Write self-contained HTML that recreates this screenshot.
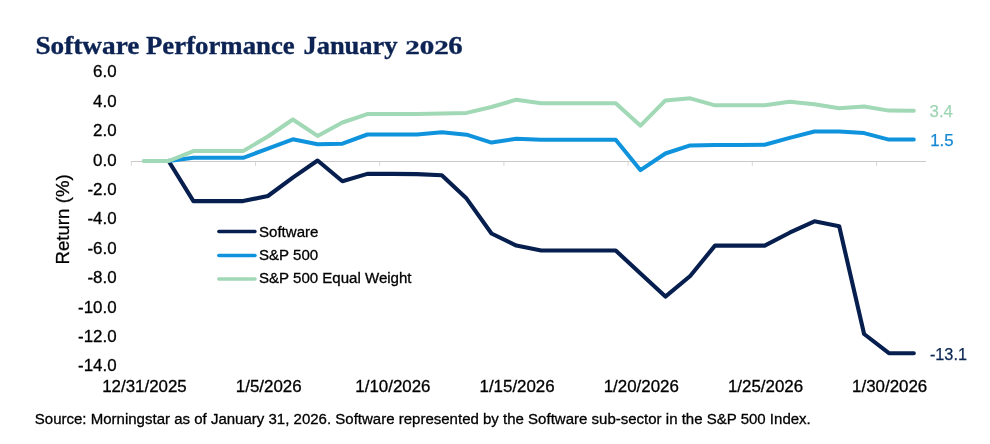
<!DOCTYPE html>
<html lang="en"><head><meta charset="utf-8"><title>Software Performance January 2026</title>
<style>
html,body{margin:0;padding:0;background:#fff;}
body{width:990px;height:444px;overflow:hidden;font-family:"Liberation Sans",Arial,sans-serif;}
svg{display:block;}
.ax text{font-size:16.9px;fill:#000;stroke:#000;stroke-width:0.3px;}
.ln{fill:none;stroke-width:4.0;stroke-linecap:round;stroke-linejoin:round;}
.lg text{font-size:15.05px;fill:#000;stroke:#000;stroke-width:0.3px;}
</style></head><body>
<svg width="990" height="444" viewBox="0 0 990 444" font-family="'Liberation Sans',Arial,sans-serif">
<rect width="990" height="444" fill="#fff"/>
<text id="title" x="35.6" y="53.7" font-family="'Liberation Serif','DejaVu Serif',serif" font-weight="700" font-size="24.7" fill="#0c2354" stroke="#0c2354" stroke-width="0.35"><tspan id="w1" x="35.4" textLength="104" lengthAdjust="spacingAndGlyphs">Software</tspan> <tspan id="w2" x="146" textLength="148.7" lengthAdjust="spacingAndGlyphs">Performance</tspan> <tspan id="w3" x="303.4" textLength="94.2" lengthAdjust="spacingAndGlyphs">January</tspan> <tspan id="w4" x="405.2" font-size="18" textLength="43.5" lengthAdjust="spacingAndGlyphs">202</tspan><tspan id="w5" x="448.3" textLength="14.4" lengthAdjust="spacingAndGlyphs">6</tspan></text>
<g class="ax"><text x="116.6" y="77.4" text-anchor="end">6.0</text><text x="116.6" y="106.8" text-anchor="end">4.0</text><text x="116.6" y="136.2" text-anchor="end">2.0</text><text x="116.6" y="165.6" text-anchor="end">0.0</text><text x="116.6" y="195.0" text-anchor="end">-2.0</text><text x="116.6" y="224.4" text-anchor="end">-4.0</text><text x="116.6" y="253.8" text-anchor="end">-6.0</text><text x="116.6" y="283.2" text-anchor="end">-8.0</text><text x="116.6" y="312.6" text-anchor="end">-10.0</text><text x="116.6" y="341.9" text-anchor="end">-12.0</text><text x="116.6" y="371.3" text-anchor="end">-14.0</text><text x="144.5" y="392.2" text-anchor="middle">12/31/2025</text><text x="268.7" y="392.2" text-anchor="middle">1/5/2026</text><text x="392.9" y="392.2" text-anchor="middle">1/10/2026</text><text x="517.1" y="392.2" text-anchor="middle">1/15/2026</text><text x="641.3" y="392.2" text-anchor="middle">1/20/2026</text><text x="765.5" y="392.2" text-anchor="middle">1/25/2026</text><text x="889.7" y="392.2" text-anchor="middle">1/30/2026</text></g>
<text transform="translate(68.5 264.6) rotate(-90)" font-size="18.7" fill="#000" stroke="#000" stroke-width="0.3">Return (%)</text>
<g stroke="#c9c9c9" stroke-width="1" fill="none"><path d="M131.0 161.5H926.2"/><g stroke="#d6d6d6"><path d="M131.3 161.5V165.8"/><path d="M255.5 161.5V165.8"/><path d="M379.7 161.5V165.8"/><path d="M503.9 161.5V165.8"/><path d="M628.1 161.5V165.8"/><path d="M752.3 161.5V165.8"/><path d="M876.5 161.5V165.8"/></g></g>
<polyline class="ln" stroke="#071f4f" style="stroke-width:4.1" points="168.6,161.0 193.4,201.1 218.2,201.1 243.1,201.1 267.9,196.0 292.8,177.6 317.6,160.5 342.4,181.2 367.3,173.9 392.1,173.9 417.0,174.1 441.8,175.2 466.6,198.6 491.5,233.5 516.3,245.6 541.2,250.5 566.0,250.5 590.8,250.5 615.7,250.5 640.5,273.6 665.4,296.6 690.2,276.0 715.0,245.6 739.9,245.6 764.7,245.6 789.6,232.7 814.4,221.3 839.2,226.2 864.1,334.0 888.9,353.2 913.8,353.2"/>
<polyline class="ln" stroke="#0f93dc" style="stroke-width:4.0" points="168.6,161.0 193.4,157.8 218.2,157.8 243.1,157.8 267.9,148.6 292.8,139.3 317.6,144.2 342.4,143.7 367.3,134.5 392.1,134.5 417.0,134.5 441.8,132.3 466.6,134.7 491.5,142.6 516.3,138.7 541.2,139.8 566.0,139.8 590.8,139.8 615.7,139.8 640.5,170.2 665.4,153.5 690.2,145.4 715.0,144.9 739.9,144.9 764.7,144.7 789.6,137.9 814.4,131.5 839.2,131.5 864.1,133.1 888.9,139.6 913.8,139.6"/>
<polyline class="ln" stroke="#a1d8b5" points="143.7,161.0 168.6,161.0 193.4,151.1 218.2,151.1 243.1,151.1 267.9,136.5 292.8,119.5 317.6,135.9 342.4,122.5 367.3,114.1 392.1,114.1 417.0,114.0 441.8,113.5 466.6,112.9 491.5,107.0 516.3,99.7 541.2,103.3 566.0,103.3 590.8,103.3 615.7,103.3 640.5,125.7 665.4,100.4 690.2,98.3 715.0,105.3 739.9,105.3 764.7,105.2 789.6,101.8 814.4,104.2 839.2,108.2 864.1,106.5 888.9,110.6 913.8,110.8"/>
<g class="lg">
<path class="ln" style="stroke-width:3.3" stroke="#071f4f" d="M218.8 231.5H255"/>
<path class="ln" style="stroke-width:3.5" stroke="#0f93dc" d="M218.8 255.6H255"/>
<path class="ln" style="stroke-width:3.5" stroke="#a1d8b5" d="M218.8 279H255"/>
<text x="259" y="236.7">Software</text>
<text x="259" y="260.1">S&amp;P 500</text>
<text x="259" y="283.3">S&amp;P 500 Equal Weight</text>
</g>
<g font-size="16.8" stroke-width="0.25">
<text x="929.6" y="117.3" fill="#9fd5b4" stroke="#9fd5b4">3.4</text>
<text x="930.2" y="146.1" fill="#1488d4" stroke="#1488d4">1.5</text>
<text x="929.9" y="359.5" font-size="16.25" fill="#0b2552" stroke="#0b2552">-13.1</text>
</g>
<text id="src" x="34.8" y="424.1" font-size="15.03" fill="#000" stroke="#000" stroke-width="0.3">Source: Morningstar as of January 31, 2026. Software represented by the Software sub-sector in the S&amp;P 500 Index.</text>
</svg>
</body></html>
